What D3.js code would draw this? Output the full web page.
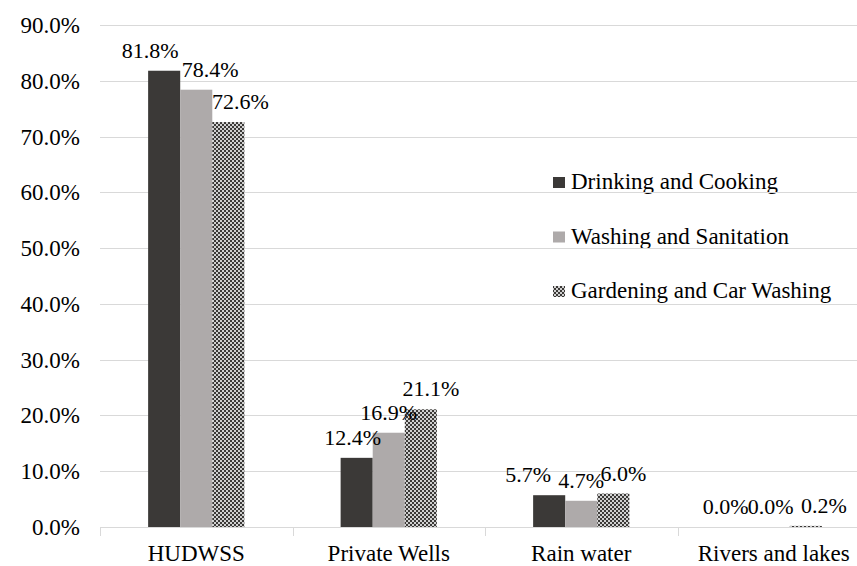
<!DOCTYPE html>
<html>
<head>
<meta charset="utf-8">
<script src="https://cdn.jsdelivr.net/npm/d3@7"></script>
<style>
html,body{margin:0;padding:0;background:#fff;font-family:"Liberation Serif",serif;}
svg{display:block;}
svg text{font-family:"Liberation Serif",serif !important;}
</style>
</head>
<body>
<svg id="chart" width="857" height="566"></svg>
<script>
const categories = ["HUDWSS", "Private Wells", "Rain water", "Rivers and lakes"];
const seriesNames = ["Drinking and Cooking", "Washing and Sanitation", "Gardening and Car Washing"];
const drinking = [81.8, 12.4, 5.7, 0.0];
const washing = [78.4, 16.9, 4.7, 0.0];
const gardening = [72.6, 21.1, 6.0, 0.2];
const yTicks = [0, 10, 20, 30, 40, 50, 60, 70, 80, 90];
// label horizontal nudges (style), per series per category
const labelDx = [[-14, -4, -21, -16], [14, 0, 0, -3], [12, 10, 10, 18]];

const seriesValues = [drinking, washing, gardening];
const colors = ["#3b3937", "#aeaaaa", "url(#checker)"];

const svg = d3.select("#chart");

function txt(sel) {
  return sel.attr("style", "font-family: 'Liberation Serif', serif").attr("fill", "#000");
}

const y = d3.scaleLinear().domain([0, 90]).range([527, 25]);
const x = d3.scaleBand().domain(categories).range([100, 870]).paddingInner(0.5).paddingOuter(0.25);
const xs = d3.scaleBand().domain(d3.range(seriesValues.length)).range([0, x.bandwidth()]);

// y tick labels
txt(svg.append("g").selectAll("text").data(yTicks).join("text")
  .attr("x", 80).attr("y", d => y(d)).attr("dy", "0.35em")
  .attr("text-anchor", "end").attr("font-size", 23))
  .text(d => d.toFixed(1) + "%");

// category labels
txt(svg.append("g").selectAll("text").data(categories).join("text")
  .attr("x", d => x(d) + x.bandwidth() / 2).attr("y", 561)
  .attr("text-anchor", "middle").attr("font-size", 23))
  .text(d => d);

// legend text
seriesNames.forEach((name, si) => {
  const top = 177 + si * 54.5;
  txt(svg.append("text").attr("x", 571).attr("y", top + 12).attr("font-size", 23)).text(name);
});

// gridlines
svg.append("g").selectAll("line").data(yTicks.filter(d => d > 0)).join("line")
  .attr("x1", 100).attr("x2", 857)
  .attr("y1", d => Math.round(y(d)) + 0.5).attr("y2", d => Math.round(y(d)) + 0.5)
  .attr("stroke", "#d9d9d9").attr("stroke-width", 1);

const defs = svg.append("defs");
const pat = defs.append("pattern").attr("id", "checker").attr("patternUnits", "userSpaceOnUse")
  .attr("width", 4).attr("height", 4);
pat.append("rect").attr("width", 4).attr("height", 4).attr("fill", "#3b3937");
pat.append("rect").attr("x", 0).attr("y", 0).attr("width", 2).attr("height", 2).attr("fill", "#d0d0d0");
pat.append("rect").attr("x", 2).attr("y", 2).attr("width", 2).attr("height", 2).attr("fill", "#d0d0d0");

// bars
seriesValues.forEach((vals, si) => {
  svg.append("g").selectAll("rect").data(vals).join("rect")
    .attr("x", (d, i) => x(categories[i]) + xs(si))
    .attr("width", xs.bandwidth())
    .attr("y", d => y(d))
    .attr("height", d => y(0) - y(d))
    .attr("fill", colors[si]);
});

// x axis line and category boundary ticks
const step = x.step();
svg.append("line").attr("x1", 100).attr("x2", 857).attr("y1", 527.5).attr("y2", 527.5)
  .attr("stroke", "#d9d9d9").attr("stroke-width", 1);
const bounds = categories.map(c => x(c) - (step - x.bandwidth()) / 2);
svg.append("g").selectAll("line").data(bounds).join("line")
  .attr("x1", d => Math.round(d) + 0.5).attr("x2", d => Math.round(d) + 0.5)
  .attr("y1", 527).attr("y2", 536)
  .attr("stroke", "#d9d9d9").attr("stroke-width", 1);

// data labels
seriesValues.forEach((vals, si) => {
  txt(svg.append("g").selectAll("text").data(vals).join("text")
    .attr("x", (d, i) => x(categories[i]) + xs(si) + xs.bandwidth() / 2 + labelDx[si][i])
    .attr("y", d => y(d) - 13)
    .attr("text-anchor", "middle").attr("font-size", 22))
    .text(d => d.toFixed(1) + "%");
});

// legend markers
seriesNames.forEach((name, si) => {
  const top = 177 + si * 54.5;
  svg.append("rect").attr("x", 553).attr("y", top).attr("width", 12).attr("height", 11).attr("fill", colors[si]);
});
</script>
</body>
</html>
